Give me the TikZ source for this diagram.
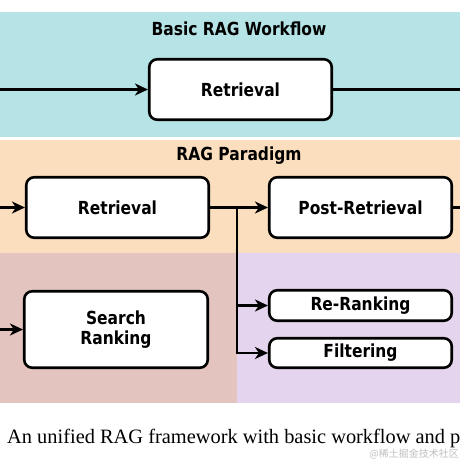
\documentclass[tikz,border=0pt]{standalone}
\usepackage{fontspec}
\usetikzlibrary{arrows.meta}
\newfontfamily\boxfont{DejaVu Sans}[FakeStretch=0.86]
\newfontfamily\capfont{Liberation Serif}
\newfontfamily\cjkfont{Noto Sans CJK SC}
\definecolor{bandcyan}{RGB}{182,227,230}
\definecolor{bandorange}{RGB}{250,222,190}
\definecolor{bandpink}{RGB}{227,196,190}
\definecolor{bandpurple}{RGB}{228,212,238}
\tikzset{
  stagebox/.style={draw=black, line width=2.6pt, fill=white, rounded corners=8pt,
    minimum width=182.5pt, align=center, inner sep=0pt,
    font=\boxfont\bfseries\fontsize{18}{21}\selectfont},
  bandtitle/.style={anchor=base, inner sep=0pt, font=\boxfont\bfseries\fontsize{18}{21}\selectfont},
  flow/.style={line width=2.4pt, -{Stealth[length=13pt,width=12pt,inset=4pt]}},
  plain/.style={line width=2.4pt}
}
\begin{document}
\begin{tikzpicture}[x=1pt,y=-1pt]
\clip (0,0) rectangle (460,460);
\useasboundingbox (0,0) rectangle (460,460);
% bands
\fill[bandcyan] (0,12) rectangle (460,137);
\fill[bandorange] (0,140) rectangle (460,253);
\fill[bandpink] (0,253) rectangle (237,403);
\fill[bandpurple] (237,253) rectangle (460,403);
% titles
\node[bandtitle] (t1) at (239,35.5) {Basic RAG Workflow};
\node[bandtitle] (t2) at (239,160) {RAG Paradigm};
% boxes
\node[stagebox, minimum height=60.5pt] (bret) at (240.5,89.5) {Retrieval};
\node[stagebox, minimum height=60.5pt] (pret) at (117.5,207.5) {Retrieval};
\node[stagebox, minimum height=60.5pt] (post) at (360.5,207.5) {Post-Retrieval};
\node[stagebox, minimum height=76.5pt, minimum width=183.5pt] (srch) at (116,329.5) {Search\\[-1pt]Ranking};
\node[stagebox, minimum height=30.5pt] (rrk) at (360.5,305.5) {Re-Ranking};
\node[stagebox, minimum height=29.5pt] (filt) at (360.5,353) {Filtering};
% connector endpoints
\coordinate (bin) at (0,89.5);
\coordinate (bout) at (460,89.5);
\coordinate (pin) at (0,207.5);
\coordinate (pout) at (460,207.5);
\coordinate (sin) at (0,329.5);
\coordinate (br) at (237,207.5);
\coordinate (brr) at (237,305.5);
\coordinate (bf) at (237,353);
% connectors
\draw[flow] (bin) -- (bret.west);
\draw[plain] (bret.east) -- (bout);
\draw[flow] (pin) -- (pret.west);
\draw[flow] (pret.east) -- (post.west);
\draw[plain] (post.east) -- (pout);
\draw[flow] (sin) -- (srch.west);
\draw[plain] (br) -- (bf);
\draw[flow] (brr) -- (rrk.west);
\draw[flow] ([xshift=-1.2pt]bf) -- (filt.west);
% caption
\node[anchor=base west, inner sep=0pt, font=\capfont\fontsize{20.4}{24}\selectfont] (cap) at (7,443) {An unified RAG framework with basic workflow and p};
\node[anchor=base east, inner sep=0pt, text=black!25, font=\cjkfont\fontsize{10}{12}\selectfont] (wm) at (459,457) {@稀土掘金技术社区};
\end{tikzpicture}
\end{document}
